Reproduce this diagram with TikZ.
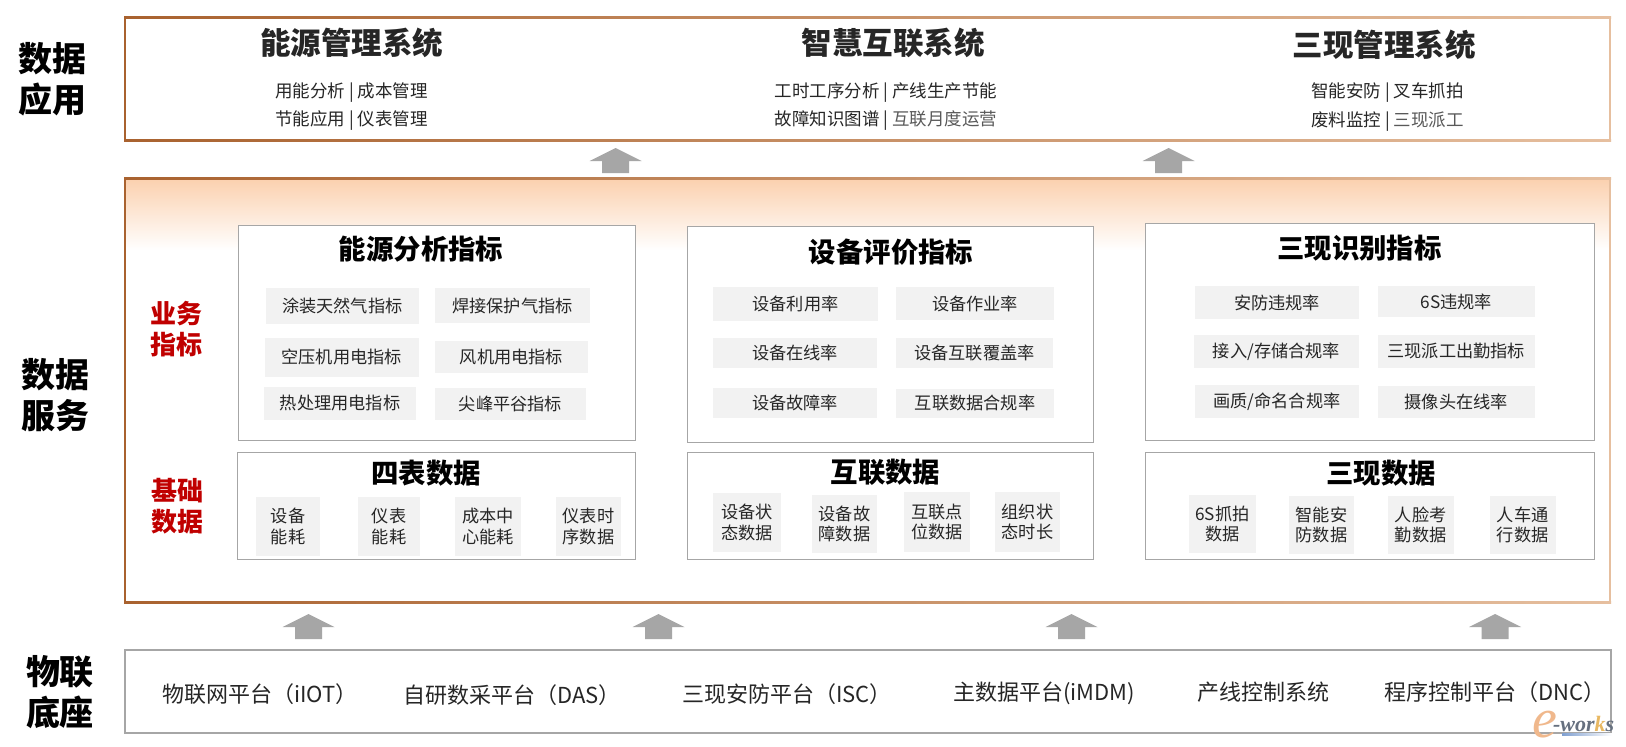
\documentclass[tikz,border=0pt]{standalone}
\usepackage{fontspec}
\setmainfont{Noto Sans CJK SC}[BoldFont={Noto Sans CJK SC Black}]
\newfontfamily\logofont{Liberation Serif}
\definecolor{gborder}{HTML}{A6A6A6}
\definecolor{gfill}{HTML}{F2F2F2}
\definecolor{redlab}{HTML}{C00000}
\definecolor{txt}{HTML}{262626}
\definecolor{txtsoft}{HTML}{595959}
\definecolor{brdL}{HTML}{A9622F}
\definecolor{brdM}{HTML}{D8945E}
\definecolor{brdR}{HTML}{E6BF9F}
\definecolor{peach}{HTML}{FBD0AE}
\definecolor{logoE}{HTML}{F0B88C}
\definecolor{logoW}{HTML}{66707F}
\definecolor{logoK}{HTML}{E8B862}
\definecolor{logoB}{HTML}{7F9FD0}
\newcommand{\fs}[2]{\fontsize{#1}{#2}\selectfont}
\tikzset{
  x=1pt,y=-1pt,
  every node/.style={inner sep=0pt,outer sep=0pt,align=center},
  layerlabel/.style={font=\bfseries\fs{34}{41.5},text=black},
  redlabel/.style={font=\bfseries\fs{26}{30.5},text=redlab},
  systitle/.style={font=\bfseries\fs{30.5}{36},text=txt},
  subline/.style={font=\fs{17.5}{21},text=txt},
  paneltitle/.style={font=\bfseries\fs{27.4}{32},text=black},
  panelbox/.style={draw=gborder,line width=1pt,fill=white},
  graybox/.style={fill=gfill,font=\fs{17.2}{20.5},text=txt},
  platform/.style={font=\fs{22}{26},text=txt},
  blockarrow/.style={fill=gborder,draw=none},
}
% name x1 y1 x2 y2 text
\newcommand{\gb}[6]{\node[graybox,minimum width={(#4-#2)*1pt},minimum height={(#5-#3)*1pt}] (#1) at ({(#2+#4)/2},{(#3+#5)/2}) {#6};}
\newcommand{\pb}[5]{\node[panelbox,minimum width={(#4-#2)*1pt},minimum height={(#5-#3)*1pt}] (#1) at ({(#2+#4)/2},{(#3+#5)/2}) {};}
\newcommand{\upblock}[2]{\fill[blockarrow] (#1,#2) -- ({#1+26},{#2+13}) -- ({#1+13.5},{#2+13}) -- ({#1+13.5},{#2+25}) -- ({#1-13.5},{#2+25}) -- ({#1-13.5},{#2+13}) -- ({#1-26},{#2+13}) -- cycle;}
\newcommand{\grframe}[4]{%
  \fill[left color=brdL,middle color=brdM,right color=brdR] (#1-1,#2-1) rectangle (#3+1,#2+1);
  \fill[left color=brdL,middle color=brdM,right color=brdR] (#1-1,#4-1) rectangle (#3+1,#4+1);
  \fill[brdL] (#1-1,#2-1) rectangle (#1+1,#4+1);
  \fill[brdR] (#3-1,#2-1) rectangle (#3+1,#4+1);
}
\begin{document}
\begin{tikzpicture}
\useasboundingbox (0,0) rectangle (1626,747);
\fill[white] (0,0) rectangle (1626,747);
% middle layer background
\fill[top color=peach,bottom color=white] (125,178) rectangle (1610,250);
\grframe{125}{17}{1610}{140}
\grframe{125}{178}{1610}{602}
\draw[gborder,line width=2pt] (125,650) rectangle (1611,733);
% layer labels
\node[layerlabel] (l1) at (52,79) {数据\\应用};
\node[layerlabel] (l2) at (55,395) {数据\\服务};
\node[layerlabel] (l3) at (60,692) {物联\\底座};
\node[redlabel] (r1) at (176,329) {业务\\指标};
\node[redlabel] (r2) at (177,506) {基础\\数据};
% application layer
\node[systitle] (s1) at (351.5,43) {能源管理系统};
\node[systitle] (s2) at (893,42.5) {智慧互联系统};
\node[systitle] (s3) at (1384,45) {三现管理系统};
\node[subline] (s1a) at (351.5,93) {用能分析 | 成本管理};
\node[subline] (s1b) at (351.5,121) {节能应用 | 仪表管理};
\node[subline] (s2a) at (886,93) {工时工序分析 | 产线生产节能};
\node[subline] (s2b) at (886,121) {故障知识图谱 | \textcolor{txtsoft}{互联月度运营}};
\node[subline] (s3a) at (1387.5,93) {智能安防 | 叉车抓拍};
\node[subline] (s3b) at (1387.5,122) {废料监控 | \textcolor{txtsoft}{三现派工}};
% panels
\pb{pa}{238.5}{225}{635.5}{440}
\pb{pb}{687.5}{226}{1093.5}{442}
\pb{pc}{1145.5}{223}{1594}{440}
\pb{qa}{237.5}{452.5}{635.5}{559}
\pb{qb}{687.5}{452.5}{1093.5}{559}
\pb{qc}{1145.5}{452.5}{1594}{559}
\node[paneltitle] (ta) at (421,249.5) {能源分析指标};
\node[paneltitle] (tb) at (891,252) {设备评价指标};
\node[paneltitle] (tc) at (1359.5,248) {三现识别指标};
\node[paneltitle] (ua) at (426,473) {四表数据};
\node[paneltitle] (ub) at (885.5,472) {互联数据};
\node[paneltitle] (uc) at (1381,473) {三现数据};
% indicators
\gb{a1}{265.5}{288}{419}{323.5}{涂装天然气指标}
\gb{a2}{435}{288}{590}{323}{焊接保护气指标}
\gb{a3}{264.5}{338}{419}{376.5}{空压机用电指标}
\gb{a4}{435}{340.5}{588}{373}{风机用电指标}
\gb{a5}{264}{387}{416}{419.5}{热处理用电指标}
\gb{a6}{435}{388}{586}{420}{尖峰平谷指标}
\gb{b1}{713}{287}{878}{321}{设备利用率}
\gb{b2}{896}{287}{1054}{320}{设备作业率}
\gb{b3}{713}{338}{877}{368}{设备在线率}
\gb{b4}{896}{338}{1053}{368}{设备互联覆盖率}
\gb{b5}{713}{388}{877}{417.5}{设备故障率}
\gb{b6}{896}{388.5}{1054}{417.5}{互联数据合规率}
\gb{c1}{1195}{286}{1359}{319}{安防违规率}
\gb{c2}{1377.5}{286}{1535}{317}{6S违规率}
\gb{c3}{1194}{335}{1359}{368}{接入/存储合规率}
\gb{c4}{1377.5}{335}{1535}{368}{三现派工出勤指标}
\gb{c5}{1195}{385}{1359}{418}{画质/命名合规率}
\gb{c6}{1377.5}{386}{1535}{418}{摄像头在线率}
% base data
\gb{d1}{256}{497}{320}{556}{设备\\能耗}
\gb{d2}{358}{497}{420}{556}{仪表\\能耗}
\gb{d3}{455}{497}{521}{556}{成本中\\心能耗}
\gb{d4}{556}{497}{621}{556}{仪表时\\序数据}
\gb{e1}{713}{492.5}{781}{552}{设备状\\态数据}
\gb{e2}{812}{495}{877}{552.5}{设备故\\障数据}
\gb{e3}{904}{491.5}{970}{552}{互联点\\位数据}
\gb{e4}{995}{492}{1060}{552}{组织状\\态时长}
\gb{f1}{1189}{495}{1256}{552.5}{6S抓拍\\数据}
\gb{f2}{1289}{496}{1354}{553.5}{智能安\\防数据}
\gb{f3}{1388}{496}{1453.5}{553.5}{人脸考\\勤数据}
\gb{f4}{1490}{496}{1555.5}{553.5}{人车通\\行数据}
% arrows
\upblock{615.5}{148}
\upblock{1168.5}{148}
\upblock{308.5}{614}
\upblock{658.5}{614}
\upblock{1071.5}{614}
\upblock{1495}{614}
% platforms
\node[platform] (g1) at (260,694) {物联网平台（iIOT）};
\node[platform] (g2) at (512,695) {自研数采平台（DAS）};
\node[platform] (g3) at (787,694) {三现安防平台（ISC）};
\node[platform] (g4) at (1044,693) {主数据平台(iMDM)};
\node[platform] (g5) at (1263.5,692) {产线控制系统};
\node[platform] (g6) at (1495,692) {程序控制平台（DNC）};
% watermark
\fill[left color=logoB,right color=white] (1562,733) rectangle (1612,735.5);
\node[font=\logofont\itshape\fs{56}{56},text=logoE,anchor=base west] (wm1) at (1532,737) {e};
\node[font=\logofont\bfseries\itshape\fs{22}{22},text=logoW,anchor=base west] (wm2) at (1553,731) {-wor\textcolor{logoK}{k}s};
\end{tikzpicture}
\end{document}
